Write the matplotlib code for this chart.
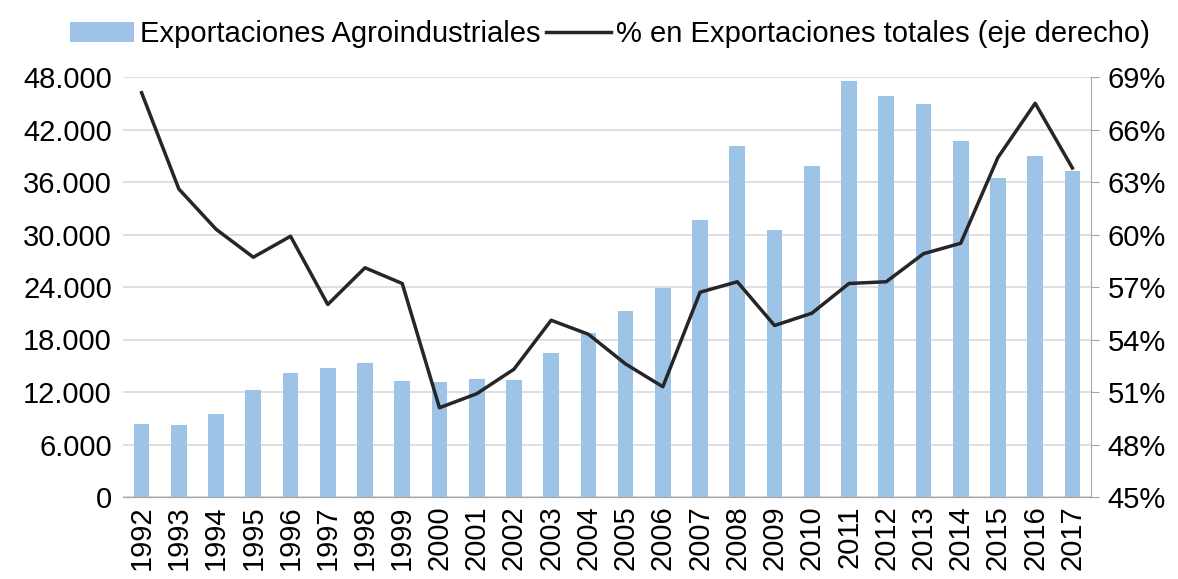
import matplotlib.pyplot as plt
import numpy as np
from matplotlib.ticker import FuncFormatter

plt.rcParams['font.family'] = ['Liberation Sans', 'DejaVu Sans']

years = [str(y) for y in range(1992, 2018)]
exports = [8300, 8200, 9500, 12200, 14200, 14700, 15300, 13300, 13100, 13500,
           13400, 16500, 18700, 21300, 23900, 31700, 40100, 30500, 37800, 47500,
           45800, 44900, 40700, 36500, 39000, 37300]
share = [68.1, 62.6, 60.3, 58.7, 59.9, 56.0, 58.1, 57.2, 50.1, 50.9,
         52.3, 55.1, 54.3, 52.6, 51.3, 56.7, 57.3, 54.8, 55.5, 57.2,
         57.3, 58.9, 59.5, 64.4, 67.5, 63.8]

fig = plt.figure(figsize=(11.78, 5.79), dpi=100)
ax = fig.add_axes([123 / 1178, 1 - 497 / 579, (1091 - 123) / 1178, (497 - 77) / 579])
ax2 = ax.twinx()

x = np.arange(len(years))
bars = ax.bar(x, exports, width=0.42, color='#9DC3E6', zorder=2,
              label='Exportaciones Agroindustriales')
line, = ax2.plot(x, share, color='#262626', linewidth=2.5,
                 label='% en Exportaciones totales (eje derecho)')

ax.set_xlim(-0.5, len(years) - 0.5)
ax.set_ylim(0, 48000)
ax.set_yticks(np.arange(0, 48001, 6000))
ax.yaxis.set_major_formatter(FuncFormatter(lambda v, p: '{:,.0f}'.format(v).replace(',', '.')))
ax2.set_ylim(45, 69)
ax2.set_yticks(np.arange(45, 70, 3))
ax2.yaxis.set_major_formatter(FuncFormatter(lambda v, p: '{:.0f}%'.format(v)))

ax.set_xticks(x)
ax.set_xticklabels(years, rotation=90)
ax.grid(axis='y', color='#D9D9D9', linewidth=1.2, zorder=0)
ax.set_axisbelow(True)

for a in (ax, ax2):
    a.spines['top'].set_visible(False)
    a.spines['left'].set_visible(False)
    a.spines['right'].set_visible(False)
    a.spines['bottom'].set_color('#A6A6A6')
    a.tick_params(labelsize=21, colors='black')
ax2.spines['right'].set_visible(True)
ax2.spines['right'].set_color('#A6A6A6')
ax.tick_params(axis='y', length=0, pad=8)
ax.tick_params(axis='x', length=0, pad=6)
ax2.tick_params(axis='y', length=6, color='#A6A6A6', pad=6)

fig.legend(handles=[bars, line], loc='upper center', bbox_to_anchor=(0.518, 1.01),
           ncol=2, frameon=False, fontsize=21, handlelength=2.2,
           handletextpad=0.2, columnspacing=0.2)

fig.savefig('out.png', dpi=100)
